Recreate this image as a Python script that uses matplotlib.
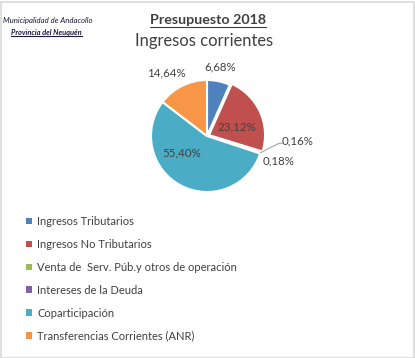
import numpy as np
import matplotlib
matplotlib.use('Agg')
import matplotlib.pyplot as plt
from matplotlib.lines import Line2D
from matplotlib.patches import Rectangle

categories = ['Ingresos Tributarios', 'Ingresos No Tributarios',
              'Venta de  Serv. Púb.y otros de operación', 'Intereses de la Deuda',
              'Coparticipación', 'Transferencias Corrientes (ANR)']
values = [6.68, 23.12, 0.16, 0.18, 55.40, 14.64]
pct_labels = ['6,68%', '23,12%', '0,16%', '0,18%', '55,40%', '14,64%']
colors = ['#4F81BD', '#C0504D', '#9BBB59', '#8064A2', '#4BACC6', '#F79646']
# label positions in pie units (radius = 1)
label_pos = [(0.23, 1.23), (0.54, 0.16), (1.61, -0.09), (1.27, -0.45), (-0.45, -0.30), (-0.73, 1.125)]

plt.rcParams['font.family'] = ['Lato', 'DejaVu Sans']
W, H = 415, 358
fig = plt.figure(figsize=(W / 100, H / 100), dpi=100)

# pie axes: center (207,136) px, radius 56 px
cx, cy, r = 207, 136, 56
half = r * 1.25
ax = fig.add_axes([(cx - half) / W, 1 - (cy + half) / H, 2 * half / W, 2 * half / H])
wedges, _ = ax.pie(values, colors=colors, startangle=90, counterclock=False,
                   explode=[0, 0.04, 0, 0, 0, 0],
                   wedgeprops=dict(edgecolor='white', linewidth=1.5))
ax.set_xlim(-1.25, 1.25)
ax.set_ylim(-1.25, 1.25)
ax.set_aspect('equal')
ax.axis('off')

for txt, (x, y) in zip(pct_labels, label_pos):
    ax.text(x, y, txt, ha='center', va='center', fontsize=8.3, color='#404040')

# leader line for the small slice
w = wedges[2]
ang = np.deg2rad((w.theta1 + w.theta2) / 2)
ax.plot([np.cos(ang), 1.29, 1.34], [np.sin(ang), -0.13, -0.13], color='#A6A6A6', lw=0.8, clip_on=False)

# titles
t1 = fig.text(208 / W, 1 - 20 / H, 'Presupuesto 2018', ha='center', va='center',
              fontsize=10.3, fontweight='bold', color='#404040')
fig.text(204 / W, 1 - 41 / H, 'Ingresos corrientes', ha='center', va='center',
         fontsize=11.9, color='#404040')
t2 = fig.text(3 / W, 1 - 21 / H, 'Municipalidad de Andacollo', ha='left', va='center',
              fontsize=5.6, style='italic', color='#1A1A3A')
t3 = fig.text(11 / W, 1 - 32 / H, 'Provincia del Neuquén', ha='left', va='center',
              fontsize=5.4, style='italic', fontweight='bold', color='#1A1A3A')

fig.canvas.draw()
rend = fig.canvas.get_renderer()
for t in (t1, t3):
    bb = t.get_window_extent(rend)
    y0 = bb.y0 - 0.5
    fig.add_artist(Line2D([bb.x0 / W, bb.x1 / W], [y0 / H, y0 / H],
                          transform=fig.transFigure, color=t.get_color(), lw=0.8))

leg = fig.legend(wedges, categories, loc='upper left', bbox_to_anchor=(26 / W, 1 - 216 / H),
                 frameon=False, fontsize=8, labelcolor='#404040',
                 handlelength=0.55, handleheight=0.55, handletextpad=0.45,
                 labelspacing=1.07, borderpad=0, borderaxespad=0)
for h in leg.legend_handles:
    h.set_edgecolor('none')

fig.add_artist(Rectangle((0.5 / W, 0.5 / H), (W - 2) / W, (H - 2) / H, transform=fig.transFigure,
                         fill=False, edgecolor='#D9D9D9', lw=1.2))

fig.savefig('out.png', dpi=100)
